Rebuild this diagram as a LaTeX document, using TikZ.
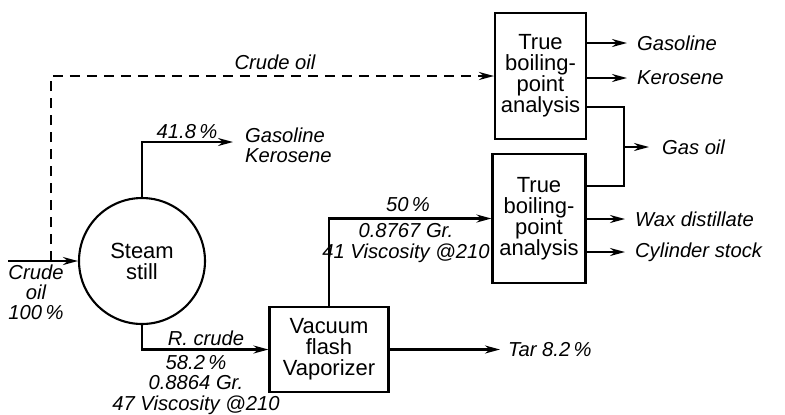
\documentclass[tikz,border=0pt]{standalone}
\usepackage{fontspec}
\setmainfont{Liberation Sans}
\usetikzlibrary{arrows.meta}

\begin{document}
\begin{tikzpicture}[x=0.02cm,y=-0.02cm]
\tikzset{
  unitbox/.style={rectangle,draw,line width=1.2pt,inner sep=1pt,align=center,font=\fontsize{12.5}{12}\selectfont},
  unitstill/.style={circle,draw,line width=1.2pt,minimum size=2.52cm,inner sep=1pt,align=center,font=\fontsize{12.5}{12}\selectfont},
  flow/.style={-{Stealth[length=3mm,width=1.6mm]},line width=1.2pt},
  flowline/.style={line width=1.2pt},
  feedline/.style={flow,dash pattern=on 2mm off 1.4mm},
  flowlabel/.style={inner sep=1pt,align=center,font=\fontsize{11.5}{11.5}\selectfont\itshape}
}
\useasboundingbox (0,0) rectangle (785,414);
\node[unitstill] (n_still) at (142,261) {Steam\\still};
\node[unitbox,minimum width=2.38cm,minimum height=1.7cm] (n_vac) at (329,349.5) {Vacuum\\flash\\Vaporizer};
\node[unitbox,minimum width=1.82cm,minimum height=2.52cm] (n_tbp1) at (540.5,76) {True\\boiling-\\point\\analysis};
\node[unitbox,minimum width=1.86cm,minimum height=2.58cm] (n_tbp2) at (539,218.5) {True\\boiling-\\point\\analysis};
\coordinate (c_crude) at (8,261);
\coordinate (c_tap) at (51,261);
\coordinate (c_light) at (233,142);
\coordinate (c_tar) at (500,349.5);
\coordinate (c_gsl) at (627,43);
\coordinate (c_ker) at (627,78);
\coordinate (c_join) at (624,147);
\coordinate (c_gasoil) at (649,147);
\coordinate (c_wax) at (625,219);
\coordinate (c_cyl) at (625,252);
\draw[flow] (c_crude) -- (n_still);
\draw[feedline] (c_tap) |- (n_tbp1.west);
\draw[flow] (n_still.north) |- (c_light);
\draw[flow] (n_still.south) |- (n_vac.west);
\draw[flow] (n_vac.north) |- (n_tbp2.west);
\draw[flow] (n_vac.east) -- (c_tar);
\draw[flow] (n_tbp1.east |- c_gsl) -- (c_gsl);
\draw[flow] (n_tbp1.east |- c_ker) -- (c_ker);
\draw[flowline] (n_tbp1.east |- 0,107) -| (c_join);
\draw[flowline] (n_tbp2.east |- 0,186) -| (c_join);
\draw[flow] (c_join) -- (c_gasoil);
\draw[flow] (n_tbp2.east |- c_wax) -- (c_wax);
\draw[flow] (n_tbp2.east |- c_cyl) -- (c_cyl);
\node[flowlabel] (l_crudein) at (36,292) {Crude\\oil\\100\,\%};
\node[flowlabel] (l_feed) at (275,62) {Crude oil};
\node[flowlabel] (l_light) at (187,132) {41.8\,\%};
\node[flowlabel,anchor=west,align=left] (l_lightprod) at (243,145) {Gasoline\\Kerosene};
\node[flowlabel] (l_rcrude) at (206,338) {R. crude};
\node[flowlabel] (l_rcrudedata) at (196,385) {58.2\,\%\\0.8864 Gr.\\47 Viscosity @210};
\node[flowlabel] (l_dist) at (408,205) {50\,\%};
\node[flowlabel] (l_distdata) at (406,243) {0.8767 Gr.\\41 Viscosity @210};
\node[flowlabel,anchor=west] (l_tar) at (506,350) {Tar 8.2\,\%};
\node[flowlabel,anchor=west] (l_gsl) at (635,43) {Gasoline};
\node[flowlabel,anchor=west] (l_ker) at (635,78) {Kerosene};
\node[flowlabel,anchor=west] (l_gasoil) at (660,147) {Gas oil};
\node[flowlabel,anchor=west] (l_wax) at (633,219) {Wax distillate};
\node[flowlabel,anchor=west] (l_cyl) at (633,252) {Cylinder stock};
\end{tikzpicture}
\end{document}
